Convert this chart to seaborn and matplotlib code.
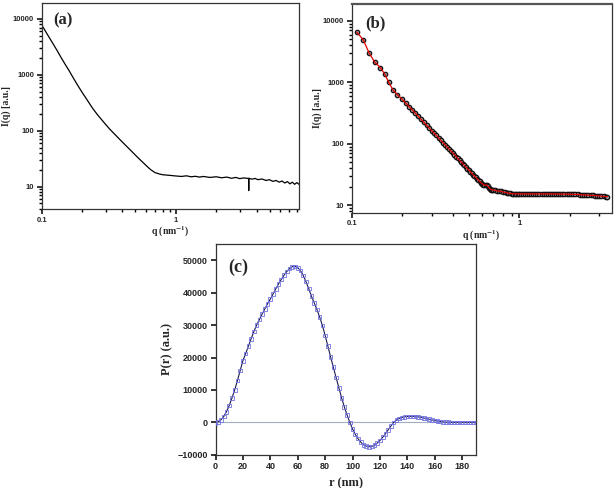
import matplotlib
matplotlib.use("Agg")
import matplotlib.pyplot as plt
import matplotlib.ticker as mticker
import seaborn as sns

# --- (a) raw scattering curve ---
q_a = [0.102, 0.11, 0.12, 0.13, 0.14, 0.15, 0.16, 0.17, 0.18, 0.19, 0.20,
       0.22, 0.24, 0.26, 0.28, 0.30, 0.32, 0.35, 0.40, 0.43, 0.47, 0.52, 0.57,
       0.62, 0.65, 0.70, 0.75, 0.80, 0.90, 1.0,
       1.1, 1.2, 1.3, 1.4, 1.5, 1.6, 1.8, 2.0, 2.2, 2.4, 2.6, 2.8, 3.0, 3.2,
       3.49, 3.50, 3.51,
       3.7, 3.9, 4.1, 4.4, 4.7, 5.0, 5.3, 5.6, 5.9, 6.2, 6.5, 6.8, 7.1, 7.4,
       7.7, 8.0, 8.3]
I_a = [7200, 5300, 3760, 2730, 2000, 1520, 1185, 920, 730, 590, 486,
       344, 250, 194, 157, 129, 108, 86.5, 62.4, 52.5, 42.4, 33.2, 26.9,
       22.2, 20.1, 17.8, 16.9, 16.3, 15.9, 15.5,
       15.2, 15.6, 15.0, 15.3, 14.8, 15.2, 14.6, 15.0, 14.4, 14.8, 14.1, 14.6, 13.9, 14.3,
       14.0, 8.5, 14.1,
       13.6, 14.0, 13.3, 13.7, 12.9, 13.3, 12.4, 12.9, 12.0, 12.6, 11.6, 12.3, 11.2, 12.0,
       11.0, 11.8, 11.0]

# --- (b) data points + fit ---
q_b = [0.107, 0.117, 0.127, 0.137, 0.148, 0.157, 0.166, 0.176, 0.187, 0.199,
       0.21, 0.22, 0.23, 0.24, 0.25, 0.26, 0.27, 0.28, 0.29, 0.30,
       0.31, 0.32, 0.33, 0.34, 0.35, 0.36, 0.37, 0.38, 0.39, 0.40,
       0.41, 0.42, 0.43, 0.44, 0.45, 0.46, 0.47, 0.48, 0.49, 0.50,
       0.51, 0.52, 0.53, 0.54, 0.55, 0.56, 0.57, 0.58, 0.59,
       0.60, 0.61, 0.62, 0.63, 0.64, 0.65, 0.66, 0.67, 0.68, 0.69, 0.70,
       0.72, 0.74, 0.76, 0.78, 0.80, 0.82, 0.84, 0.86, 0.88, 0.90, 0.92, 0.94,
       0.96, 0.98, 1.00,
       1.03, 1.06, 1.09, 1.12, 1.15, 1.18, 1.21, 1.24,
       1.28, 1.32, 1.36, 1.40, 1.44, 1.48, 1.52, 1.56,
       1.61, 1.66, 1.71, 1.76, 1.81, 1.86,
       1.92, 1.98, 2.04, 2.10, 2.16,
       2.23, 2.30, 2.37, 2.44, 2.51,
       2.59, 2.67, 2.75, 2.83,
       2.92, 3.01, 3.10, 3.19, 3.28, 3.36]
I_b = [6560, 4920, 2985, 2130, 1740, 1370, 1005, 752, 630, 536,
       460, 402, 353, 312, 278, 248, 222, 200, 180, 163,
       149, 136, 124, 114, 104.5, 96.4, 89, 82.4, 76.4, 71,
       66.1, 61.6, 57.6, 53.8, 50.5, 47.3, 44.5, 41.9, 39.4, 37.2,
       35.1, 33.2, 31.4, 29.7, 28.2, 26.8, 25.5, 24.3, 23.3,
       22.4, 21.6, 21.0, 21.2, 21.3, 20.4, 19.3, 18.4, 17.9, 17.7, 17.6,
       17.4, 17.1, 16.9, 16.7, 16.4, 16.1, 15.9, 15.7, 15.5, 15.4, 15.3, 15.3,
       15.3, 15.2, 15.2,
       15.2, 15.2, 15.2, 15.2, 15.2, 15.2, 15.2, 15.2,
       15.2, 15.2, 15.2, 15.2, 15.2, 15.2, 15.2, 15.2,
       15.2, 15.2, 15.1, 15.1, 15.1, 15.1,
       15.1, 15.1, 15.0, 15.0, 14.9,
       14.9, 14.8, 14.7, 14.7, 14.6,
       14.5, 14.4, 14.4, 14.3,
       14.2, 14.1, 14.0, 13.9, 13.8, 13.7]

# --- (c) pair distance distribution ---
r_nm = [0, 2, 4, 6, 8, 10, 12, 14, 16, 18, 20, 22, 24, 26, 28, 30, 32, 34, 36, 38,
        40, 42, 44, 46, 48, 50, 52, 54, 56, 58, 60, 62, 64, 66, 68, 70, 72, 74, 76, 78,
        80, 82, 84, 86, 88, 90, 92, 94, 96, 98, 100, 102, 104, 106, 108, 110, 112, 114,
        116, 118, 120, 122, 124, 126, 128, 130, 132, 134, 136, 138, 140, 142, 144, 146,
        148, 150, 152, 154, 156, 158, 160, 162, 164, 166, 168, 170, 172, 174, 176, 178,
        180, 182, 184, 186, 188, 190]
p_r = [-300, 200, 800, 1800, 3300, 5200, 7500, 10000, 12900, 16000,
       19000, 21200, 23500, 25800, 28000, 30000, 31700, 33400, 35000, 36600,
       38000, 39600, 41200, 42700, 44100, 45400, 46500, 47400, 48000, 48100,
       47700, 46800, 45300, 43400, 41300, 38900, 36900, 34800, 32500, 29900,
       26800, 23500, 20200, 17000, 13800, 10700, 7600, 4800, 2300, 0,
       -2000, -3700, -5000, -6100, -6900, -7300, -7500, -7400, -7000, -6400,
       -5600, -4600, -3500, -2300, -1100, 0, 700, 1200, 1500, 1700,
       1800, 1850, 1850, 1800, 1700, 1550, 1350, 1150, 950, 750,
       550, 400, 250, 150, 80, 30, 0, 0, 0, 0,
       0, 0, 0, 0, 0, 0]

sns.set_style("ticks")
plt.rcParams['font.family'] = ['Liberation Sans', 'DejaVu Sans']
plt.rcParams['mathtext.fontset'] = 'stix'
plt.rcParams['mathtext.default'] = 'bf'

serif = {'family': 'Liberation Serif', 'weight': 'bold'}

fig = plt.figure(figsize=(6.14, 4.88), dpi=100)
ax_a = fig.add_axes([0.068, 0.572, 0.419, 0.422])
ax_b = fig.add_axes([0.573, 0.564, 0.423, 0.428])
ax_c = fig.add_axes([0.351, 0.068, 0.424, 0.432])


def style_log(ax):
    ax.set_xscale('log')
    ax.set_yscale('log')
    for axis in (ax.xaxis, ax.yaxis):
        axis.set_major_locator(mticker.LogLocator(base=10, numticks=10))
        axis.set_minor_locator(mticker.LogLocator(base=10, subs=range(2, 10), numticks=40))
        axis.set_major_formatter(mticker.FuncFormatter(lambda v, p: f"{v:g}"))
        axis.set_minor_formatter(mticker.NullFormatter())
    ax.tick_params(which='major', direction='out', length=3.5, width=1.1,
                   labelsize=5.5, pad=2, color='black')
    ax.tick_params(which='minor', direction='out', length=2.2, width=1.0,
                   color='black')
    for lab in ax.get_xticklabels() + ax.get_yticklabels():
        lab.set_fontweight('bold')
    for s in ax.spines.values():
        s.set_linewidth(0.9)
        s.set_color('#333333')


# --- PANEL A ---
sns.lineplot(x=q_a, y=I_a, ax=ax_a, color='black', linewidth=0.9, sort=False)
style_log(ax_a)
ax_a.set_xlim(0.1, 8.3)
ax_a.set_ylim(4, 19300)
ax_a.set_xlabel("q (nm$^{-1}$)", fontdict=serif, fontsize=7, labelpad=1)
ax_a.set_ylabel("I(q) [a.u.]", fontdict=serif, fontsize=7, labelpad=1)
ax_a.text(0.045, 0.915, "(a)", transform=ax_a.transAxes, va='center',
          fontdict=serif, fontsize=12)

# --- PANEL B ---
sns.scatterplot(x=q_b, y=I_b, ax=ax_b, s=10, color='#9a9a9a', edgecolor='#111111',
                linewidth=0.9, zorder=2)
sns.lineplot(x=q_b, y=I_b, ax=ax_b, color='#e00000', linewidth=0.9, zorder=3)
style_log(ax_b)
ax_b.set_xlim(0.1, 3.56)
ax_b.set_ylim(7.5, 18900)
ax_b.set_xlabel("q (nm$^{-1}$)", fontdict=serif, fontsize=7, labelpad=1)
ax_b.set_ylabel("I(q) [a.u.]", fontdict=serif, fontsize=7, labelpad=1)
ax_b.text(0.05, 0.905, "(b)", transform=ax_b.transAxes, va='center',
          fontdict=serif, fontsize=12)
ax_b.spines['top'].set_color('#555555')
ax_b.spines['top'].set_linewidth(1.6)

# --- PANEL C ---
ax_c.axhline(0, color='#a3adc0', linewidth=0.8, zorder=1)
sns.lineplot(x=r_nm, y=p_r, ax=ax_c, color='#1c1c50', linewidth=0.8, zorder=2)
sns.scatterplot(x=r_nm, y=p_r, ax=ax_c, marker='s', s=7, facecolor='none',
                edgecolor='#7474e0', linewidth=0.6, zorder=3)
ax_c.set_xlim(0, 190)
ax_c.set_ylim(-10000, 55000)
ax_c.set_xticks([0, 20, 40, 60, 80, 100, 120, 140, 160, 180])
ax_c.set_yticks([-10000, 0, 10000, 20000, 30000, 40000, 50000])
ax_c.tick_params(length=3.5, width=1.1, labelsize=6.5, pad=2, color='black')
for lab in ax_c.get_xticklabels() + ax_c.get_yticklabels():
    lab.set_fontweight('bold')
for s in ax_c.spines.values():
    s.set_linewidth(0.9)
    s.set_color('#333333')
ax_c.set_xlabel("r (nm)", fontdict=serif, fontsize=9, labelpad=4)
ax_c.set_ylabel("P(r) (a.u.)", fontdict=serif, fontsize=9, labelpad=3)
ax_c.text(0.05, 0.888, "(c)", transform=ax_c.transAxes, va='center',
          fontdict=serif, fontsize=13)

fig.savefig("out.png", dpi=100)
